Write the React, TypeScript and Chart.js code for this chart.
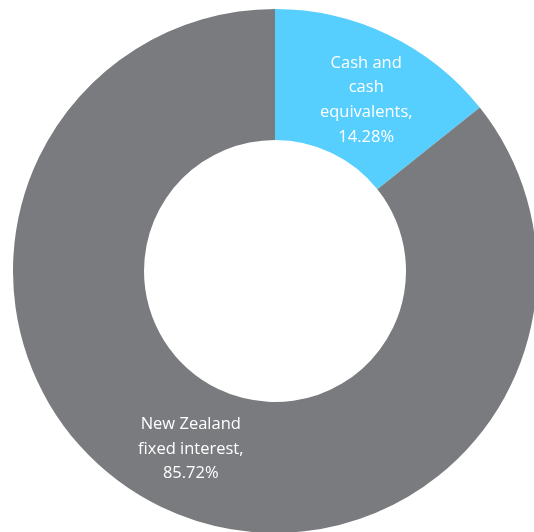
import React, { useEffect, useRef } from "react";
import { Chart, registerables } from "chart.js";

Chart.register(...registerables);

const categories = ["Cash and cash equivalents", "New Zealand fixed interest"];
const values = [14.28, 85.72];
const labelLines = [
  ["Cash and", "cash", "equivalents,", "14.28%"],
  ["New Zealand", "fixed interest,", "85.72%"],
];
const colors = ["#56CFFE", "#7A7B7F"];
const labelNudge = [
  [6, 6],
  [1, 1],
];

const labelPlugin = {
  id: "sliceLabels",
  afterDatasetsDraw(chart: any) {
    const ctx = chart.ctx;
    const meta = chart.getDatasetMeta(0);
    ctx.save();
    ctx.fillStyle = "#ffffff";
    ctx.font = "400 16.5px 'Open Sans'";
    ctx.textAlign = "center";
    ctx.textBaseline = "middle";
    const lh = 24.7;
    meta.data.forEach((arc: any, i: number) => {
      const p = arc.tooltipPosition();
      const lines = labelLines[i];
      const start = p.y - ((lines.length - 1) * lh) / 2 + labelNudge[i][1];
      lines.forEach((t: string, j: number) => {
        ctx.fillText(t, p.x + labelNudge[i][0], start + j * lh);
      });
    });
    ctx.restore();
  },
};

export default function App() {
  const ref = useRef<HTMLCanvasElement>(null);
  useEffect(() => {
    if (!ref.current) return;
    const chart = new Chart(ref.current, {
      type: "doughnut",
      data: {
        labels: categories,
        datasets: [
          {
            data: values,
            backgroundColor: colors,
            borderWidth: 0,
          },
        ],
      },
      options: {
        animation: false,
        responsive: true,
        maintainAspectRatio: false,
        cutout: "50%",
        layout: { padding: 0 },
        plugins: {
          legend: { display: false },
          tooltip: { enabled: false },
        },
      },
      plugins: [labelPlugin],
    });
    return () => chart.destroy();
  }, []);

  return (
    <div style={{ position: "fixed", inset: 0, overflow: "hidden", background: "#fff" }}>
      <div style={{ position: "absolute", left: 13, top: 9, width: 524, height: 524 }}>
        <canvas ref={ref} />
      </div>
    </div>
  );
}
